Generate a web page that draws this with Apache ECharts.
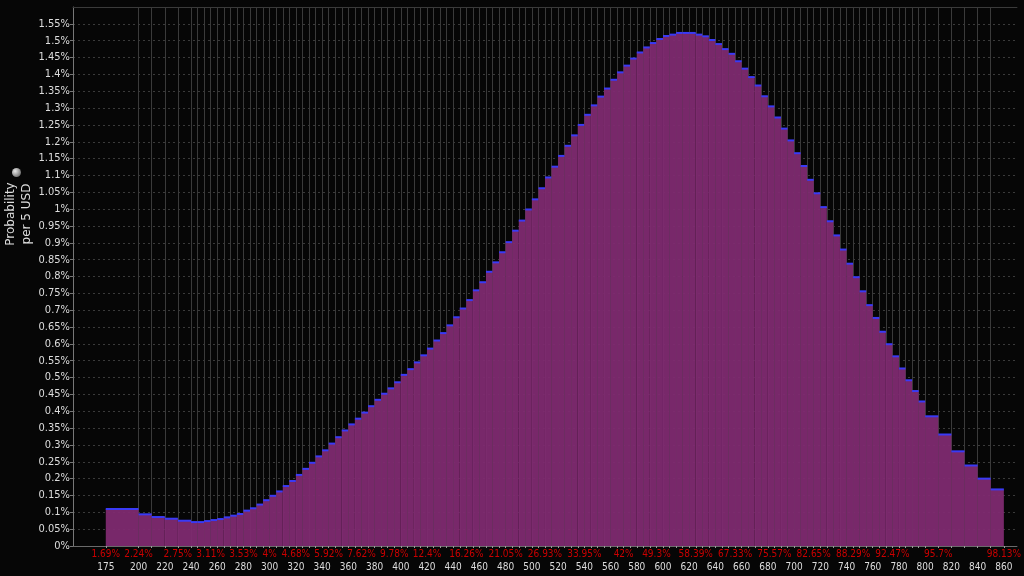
<!DOCTYPE html>
<html><head><meta charset="utf-8">
<script src="https://cdn.jsdelivr.net/npm/echarts@6/dist/echarts.min.js"></script>
<style>html,body{margin:0;padding:0;background:#060606}#c{width:1024px;height:576px}</style>
</head><body><div id="c"></div>
<script>
// bin edges (USD) and probability per 5 USD (%) for each bin
const binEdges = [175,200,210,220,230,240,245,250,255,260,265,270,275,280,285,290,295,300,305,310,315,320,325,330,335,340,345,350,355,360,365,370,375,380,385,390,395,400,405,410,415,420,425,430,435,440,445,450,455,460,465,470,475,480,485,490,495,500,505,510,515,520,525,530,535,540,545,550,555,560,565,570,575,580,585,590,595,600,605,610,615,620,625,630,635,640,645,650,655,660,665,670,675,680,685,690,695,700,705,710,715,720,725,730,735,740,745,750,755,760,765,770,775,780,785,790,795,800,810,820,830,840,850,860];
const probPer5 = [0.110,0.094,0.086,0.081,0.075,0.071,0.071,0.074,0.077,0.080,0.085,0.090,0.095,0.105,0.112,0.123,0.136,0.149,0.162,0.178,0.193,0.211,0.229,0.247,0.266,0.284,0.304,0.323,0.343,0.361,0.378,0.396,0.415,0.434,0.452,0.468,0.486,0.508,0.525,0.545,0.566,0.586,0.610,0.632,0.655,0.679,0.705,0.730,0.759,0.783,0.814,0.842,0.872,0.902,0.936,0.966,0.999,1.029,1.062,1.094,1.126,1.158,1.188,1.219,1.250,1.280,1.308,1.334,1.358,1.384,1.406,1.426,1.447,1.465,1.480,1.493,1.505,1.514,1.518,1.523,1.523,1.523,1.518,1.513,1.502,1.490,1.475,1.461,1.439,1.417,1.392,1.367,1.335,1.305,1.272,1.239,1.204,1.166,1.128,1.087,1.047,1.006,0.964,0.922,0.880,0.838,0.798,0.756,0.715,0.677,0.636,0.599,0.563,0.527,0.492,0.460,0.429,0.385,0.331,0.281,0.239,0.200,0.168];
const xTickLabels = [175,200,220,240,260,280,300,320,340,360,380,400,420,440,460,480,500,520,540,560,580,600,620,640,660,680,700,720,740,760,780,800,820,840,860];
const cumPositions = [175,200,230,255,280,300,320,345,370,395,420,450,480,510,540,570,595,625,655,685,715,745,775,810,860];
const cumLabels = ['1.69%','2.24%','2.75%','3.11%','3.53%','4%','4.68%','5.92%','7.62%','9.78%','12.4%','16.26%','21.05%','26.93%','33.95%','42%','49.3%','58.39%','67.33%','75.57%','82.65%','88.29%','92.47%','95.7%','98.13%'];

const FONT = "'DejaVu Sans Condensed','DejaVu Sans',sans-serif";
const bars = probPer5.map((v, i) => [binEdges[i], binEdges[i + 1], v]);

const chart = echarts.init(document.getElementById('c'));
chart.setOption({
  backgroundColor: '#060606',
  animation: false,
  grid: { left: 73, right: 4, top: 7, bottom: 30 },
  xAxis: [
    {
      type: 'value', min: 150, max: 870, position: 'bottom',
      axisLine: { show: true, lineStyle: { color: '#6a6a6a' } },
      axisTick: { show: true, customValues: binEdges, length: 2, lineStyle: { color: '#9a9a9a' } },
      splitLine: { show: true, showMinLine: false, showMaxLine: false, lineStyle: { color: '#3a3a3a', width: 1 } },
      axisLabel: { customValues: xTickLabels, color: '#dddddd', fontSize: 10, fontFamily: FONT, margin: 16 }
    },
    {
      type: 'value', min: 150, max: 870, position: 'bottom',
      axisLine: { show: false }, axisTick: { show: false }, splitLine: { show: false },
      axisLabel: {
        customValues: cumPositions, color: '#cc0000', fontSize: 10, fontFamily: FONT, margin: 3,
        formatter: v => cumLabels[cumPositions.indexOf(v)]
      }
    },
    {
      type: 'value', min: 150, max: 870, position: 'top',
      axisLine: { show: true, lineStyle: { color: '#3a3a3a' } },
      axisTick: { show: false }, axisLabel: { show: false }, splitLine: { show: false }
    }
  ],
  yAxis: {
    type: 'value', min: 0, max: 1.6, interval: 0.05,
    axisLine: { show: true, lineStyle: { color: '#777777' } },
    axisTick: { show: true, length: 3, lineStyle: { color: '#777777' } },
    splitLine: { show: true, showMaxLine: false, lineStyle: { color: '#3a3a3a', type: [2, 3] } },
    axisLabel: {
      color: '#dddddd', fontSize: 11, fontFamily: FONT, margin: 3, showMaxLabel: false,
      formatter: v => (+v.toFixed(2)) + '%'
    }
  },
  graphic: [
    {
      type: 'text', x: 19, y: 214, rotation: Math.PI / 2,
      style: { text: 'Probability\nper 5 USD', fill: '#dddddd', font: "12px 'DejaVu Sans',sans-serif",
        align: 'center', verticalAlign: 'middle', lineHeight: 16 }
    },
    {
      type: 'circle', shape: { cx: 16.5, cy: 172.5, r: 4.5 },
      style: { fill: new echarts.graphic.RadialGradient(0.35, 0.35, 0.7, [
        { offset: 0, color: '#e8e8e8' }, { offset: 1, color: '#707070' }]) }
    }
  ],
  series: [{
    type: 'custom',
    xAxisIndex: 0,
    data: bars,
    encode: { x: [0, 1], y: 2 },
    renderItem: function (params, api) {
      const x0 = api.value(0), x1 = api.value(1), v = api.value(2);
      const pTop = api.coord([x0, v]);
      const pEnd = api.coord([x1, 0]);
      return {
        type: 'group',
        children: [
          { type: 'rect', shape: { x: pTop[0], y: pTop[1], width: pEnd[0] - pTop[0], height: pEnd[1] - pTop[1] },
            style: { fill: '#7e2a70', opacity: 0.95 } },
          { type: 'line', shape: { x1: pTop[0], y1: pTop[1], x2: pEnd[0], y2: pTop[1] },
            style: { stroke: '#3a3af5', lineWidth: 2 } }
        ]
      };
    }
  }]
});
</script></body></html>
